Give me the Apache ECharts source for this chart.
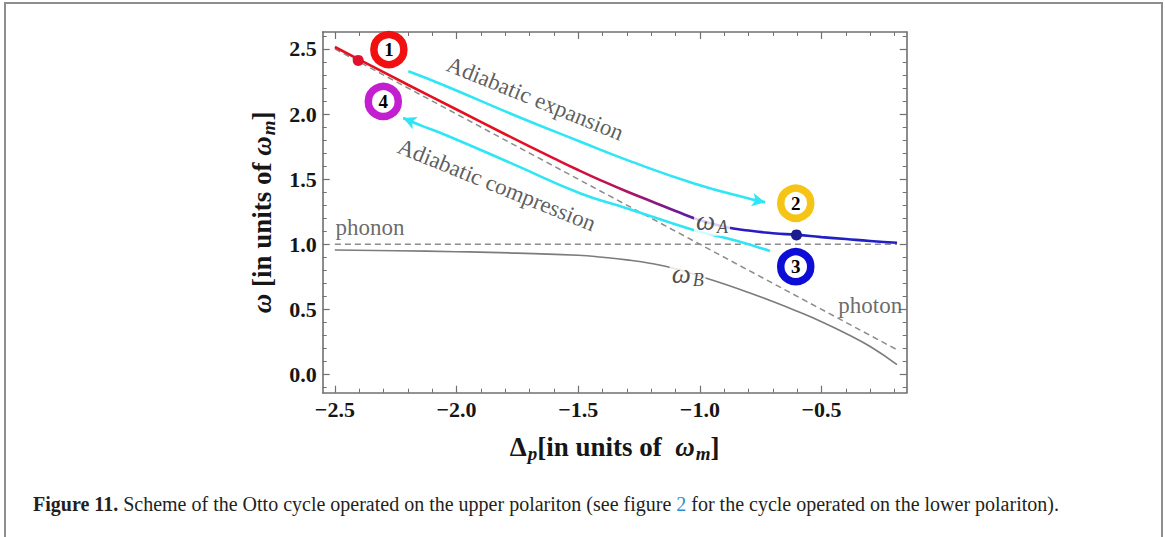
<!DOCTYPE html>
<html>
<head>
    <meta charset="UTF-8">
    <title>Otto cycle, upper polariton</title>
    <script src="https://cdn.jsdelivr.net/npm/echarts@6/dist/echarts.min.js"></script>
    <style>
        html, body { margin: 0; padding: 0; background: #fff; }
        #main { width: 1165px; height: 537px; }
    </style>
</head>
<body>
    <div id="main"></div>
    <script>
        // tick positions
        var xMajor = [-2.5, -2.0, -1.5, -1.0, -0.5];
        var xMinor = [-2.4, -2.3, -2.2, -2.1, -1.9, -1.8, -1.7, -1.6, -1.4, -1.3, -1.2, -1.1, -0.9, -0.8, -0.7, -0.6, -0.4, -0.3, -0.2];
        var yMajor = [0, 0.5, 1.0, 1.5, 2.0, 2.5];
        var yMinor = [-0.1, 0.1, 0.2, 0.3, 0.4, 0.6, 0.7, 0.8, 0.9, 1.1, 1.2, 1.3, 1.4, 1.6, 1.7, 1.8, 1.9, 2.1, 2.2, 2.3, 2.4, 2.6];

        // bare modes (dashed)
        var photonDelta = [-2.5, -0.19];
        var photonOmega = [2.5, 0.19];
        var phononDelta = [-2.5, -0.19];
        var phononOmega = [1.0, 1.0];

        // polariton branches
        var upperDelta = [-2.5, -2.4, -2.2, -2.0, -1.8, -1.6, -1.5, -1.4, -1.3, -1.2, -1.1, -1.0, -0.9, -0.8, -0.7, -0.6, -0.5, -0.4, -0.3, -0.19];
        var upperOmega = [2.515, 2.418, 2.225, 2.035, 1.845, 1.66, 1.57, 1.485, 1.405, 1.33, 1.255, 1.185, 1.135, 1.105, 1.085, 1.072, 1.055, 1.04, 1.025, 1.012];
        var lowerDelta = [-2.5, -2.25, -2.0, -1.75, -1.5, -1.4, -1.3, -1.2, -1.1, -1.0, -0.9, -0.8, -0.7, -0.6, -0.5, -0.4, -0.3, -0.19];
        var lowerOmega = [0.956, 0.95, 0.943, 0.932, 0.915, 0.9, 0.88, 0.852, 0.812, 0.755, 0.695, 0.63, 0.56, 0.485, 0.405, 0.315, 0.215, 0.076];

        // cycle strokes
        var expDelta = [-2.198, -2.04, -1.767, -1.493, -1.301, -1.027, -0.78, -0.732];
        var expOmega = [2.328, 2.212, 1.995, 1.789, 1.648, 1.469, 1.341, 1.322];
        var cmpDelta = [-0.712, -0.85, -1.027, -1.301, -1.493, -1.767, -2.04, -2.15, -2.219];
        var cmpOmega = [0.948, 1.027, 1.11, 1.277, 1.392, 1.615, 1.835, 1.915, 1.969];

        // operating points and numbered stages
        var dotDelta = [-2.404, -0.603];
        var dotOmega = [2.412, 1.072];
        var stageDelta = [-2.278, -0.606, -0.606, -2.301];
        var stageOmega = [2.495, 1.315, 0.828, 2.097];
        var stageNames = ['1', '2', '3', '4'];

        function zip(a, b) {
            return a.map(function (v, i) { return [v, b[i]]; });
        }

        var serif = "'Liberation Serif', serif";
        var frame = '#707070';
        var cyan = '#2ee6f4';
        var stageColors = ['#f01010', '#f5c414', '#0d0dd6', '#c31ecf'];
        var dotColors = ['#e3102c', '#1c1c8e'];

        function fmt(v) {
            return v.toFixed(1).replace('-', '\u2212');
        }

        var axisRich = {
            i: { fontStyle: 'italic', fontWeight: 'bold', fontFamily: serif, fontSize: 27 },
            d: { fontWeight: 'bold', fontFamily: serif, fontSize: 27 },
            m: { fontStyle: 'italic', fontWeight: 'bold', fontFamily: serif, fontSize: 19, verticalAlign: 'bottom', padding: [13, 0, 0, 1] }
        };

        function majorAxis(kind, pos, vals, main) {
            var ax = {
                type: 'value',
                position: pos,
                min: kind === 'x' ? -2.55 : -0.14,
                max: kind === 'x' ? -0.15 : 2.63,
                axisLine: { show: true, onZero: false, lineStyle: { color: frame, width: 1.6 } },
                axisTick: { show: true, inside: true, length: 7, customValues: vals, lineStyle: { color: frame, width: 1.2 } },
                axisLabel: { show: false },
                splitLine: { show: false }
            };
            if (main) {
                ax.axisLabel = {
                    show: true, customValues: vals, formatter: fmt, margin: 6,
                    fontFamily: serif, fontWeight: 'bold', fontSize: 22, color: '#161616'
                };
            }
            return ax;
        }

        function minorAxis(kind, pos, vals) {
            return {
                type: 'value',
                position: pos,
                min: kind === 'x' ? -2.55 : -0.14,
                max: kind === 'x' ? -0.15 : 2.63,
                axisLine: { show: false, onZero: false },
                axisTick: { show: true, inside: true, length: 4, customValues: vals, lineStyle: { color: frame, width: 1 } },
                axisLabel: { show: false },
                splitLine: { show: false }
            };
        }

        var xBottom = majorAxis('x', 'bottom', xMajor, true);
        xBottom.name = '{d|\u0394}{m|p}[in units of  {i|\u03c9}{m|m}]';
        xBottom.nameLocation = 'middle';
        xBottom.nameGap = 38;
        xBottom.nameTextStyle = { fontFamily: serif, fontWeight: 'bold', fontSize: 27, color: '#161616', rich: axisRich };

        var yLeft = majorAxis('y', 'left', yMajor, true);
        yLeft.name = '{i|\u03c9} [in units of {i|\u03c9}{m|m}]';
        yLeft.nameLocation = 'middle';
        yLeft.nameRotate = 90;
        yLeft.nameGap = 44;
        yLeft.nameTextStyle = { fontFamily: serif, fontWeight: 'bold', fontSize: 27, color: '#161616', rich: axisRich };

        var chart = echarts.init(document.getElementById('main'), null, { renderer: 'svg' });

        var textItems = [
            { value: [-2.356, 1.125], name: 'phonon', label: { fontSize: 23, color: '#444' } },
            { value: [-0.30, 0.533], name: 'photon', label: { fontSize: 23, color: '#444' } },
            { value: [-1.677, 2.118], name: 'Adiabatic expansion', label: { fontSize: 23, color: '#333', rotate: -22 } },
            { value: [-1.835, 1.455], name: 'Adiabatic compression', label: { fontSize: 23, color: '#333', rotate: -22 } },
            { value: [-0.95, 1.18], name: '{w|\u03c9}{s|A}', label: { backgroundColor: '#fff', padding: [0, 2, 0, 2] } },
            { value: [-1.05, 0.772], name: '{w|\u03c9}{s|B}', label: { backgroundColor: '#fff', padding: [0, 2, 0, 2] } }
        ];

        var option = {
            animation: false,
            backgroundColor: '#fff',
            grid: { left: 322.7, right: 258.3, top: 32, bottom: 144.3, containLabel: false },
            xAxis: [
                xBottom,
                minorAxis('x', 'bottom', xMinor),
                majorAxis('x', 'top', xMajor, false),
                minorAxis('x', 'top', xMinor)
            ],
            yAxis: [
                yLeft,
                minorAxis('y', 'left', yMinor),
                majorAxis('y', 'right', yMajor, false),
                minorAxis('y', 'right', yMinor)
            ],
            visualMap: {
                type: 'continuous',
                show: false,
                seriesIndex: 3,
                dimension: 0,
                min: -2.5,
                max: -0.19,
                inRange: {
                    color: ['#e5101f', '#e5101f', '#e5101f', '#e5101f', '#e3102a', '#cf1042', '#a0166e', '#5c1aa6', '#2c18c4', '#2020c6', '#2020c6', '#2020c6']
                }
            },
            series: [
                {
                    name: 'photon', type: 'line', data: zip(photonDelta, photonOmega),
                    symbol: 'none', silent: true, z: 1,
                    lineStyle: { color: '#8c8c8c', width: 1.5, type: [6, 4] }
                },
                {
                    name: 'phonon', type: 'line', data: zip(phononDelta, phononOmega),
                    symbol: 'none', silent: true, z: 1,
                    lineStyle: { color: '#8c8c8c', width: 1.5, type: [6, 4] }
                },
                {
                    name: 'omegaB', type: 'line', data: zip(lowerDelta, lowerOmega),
                    symbol: 'none', smooth: true, silent: true, z: 2,
                    lineStyle: { color: '#7c7c7c', width: 1.6 }
                },
                {
                    name: 'omegaA', type: 'line', data: zip(upperDelta, upperOmega),
                    symbol: 'none', smooth: true, silent: true, z: 3,
                    lineStyle: { width: 2.6 }
                },
                {
                    name: 'expansion', type: 'line', data: zip(expDelta, expOmega),
                    symbol: 'none', smooth: true, silent: true, z: 3,
                    lineStyle: { color: cyan, width: 2.6 },
                    markLine: {
                        silent: true, symbol: ['none', 'arrow'], symbolSize: [10, 13],
                        label: { show: false },
                        lineStyle: { color: cyan, width: 2.6, type: 'solid' },
                        data: [[
                            { coord: [expDelta[expDelta.length - 2], expOmega[expOmega.length - 2]] },
                            { coord: [expDelta[expDelta.length - 1], expOmega[expOmega.length - 1]] }
                        ]]
                    }
                },
                {
                    name: 'compression', type: 'line', data: zip(cmpDelta, cmpOmega),
                    symbol: 'none', smooth: true, silent: true, z: 3,
                    lineStyle: { color: cyan, width: 2.6 },
                    markLine: {
                        silent: true, symbol: ['none', 'arrow'], symbolSize: [10, 13],
                        label: { show: false },
                        lineStyle: { color: cyan, width: 2.6, type: 'solid' },
                        data: [[
                            { coord: [cmpDelta[cmpDelta.length - 2], cmpOmega[cmpOmega.length - 2]] },
                            { coord: [cmpDelta[cmpDelta.length - 1], cmpOmega[cmpOmega.length - 1]] }
                        ]]
                    }
                },
                {
                    name: 'points', type: 'scatter', silent: true, z: 5,
                    symbolSize: 11,
                    data: zip(dotDelta, dotOmega).map(function (p, i) {
                        return { value: p, itemStyle: { color: dotColors[i], opacity: 1 } };
                    })
                },
                {
                    name: 'stages', type: 'scatter', silent: true, z: 6,
                    symbolSize: 30,
                    data: zip(stageDelta, stageOmega).map(function (p, i) {
                        return {
                            value: p, name: stageNames[i],
                            itemStyle: { color: '#fff', borderColor: stageColors[i], borderWidth: 7.5, opacity: 1 }
                        };
                    }),
                    label: {
                        show: true, position: 'inside', formatter: '{b}',
                        fontFamily: serif, fontWeight: 'bold', fontSize: 19, color: '#000'
                    }
                },
                {
                    name: 'texts', type: 'scatter', silent: true, z: 7,
                    symbolSize: 0,
                    data: textItems,
                    label: {
                        show: true, position: 'inside', formatter: '{b}',
                        fontFamily: serif, fontSize: 23, color: '#333',
                        rich: {
                            w: { fontFamily: serif, fontStyle: 'italic', fontSize: 27, color: '#222' },
                            s: { fontFamily: serif, fontStyle: 'italic', fontSize: 18, color: '#222', verticalAlign: 'bottom', padding: [12, 0, 0, 2] }
                        }
                    }
                }
            ],
            graphic: [
                {
                    type: 'rect', silent: true, z: 0,
                    shape: { x: 5, y: 3, width: 1157, height: 600 },
                    style: { fill: 'none', stroke: '#8e8e8e', lineWidth: 2 }
                },
                {
                    type: 'text', left: 33, top: 494, silent: true,
                    style: {
                        text: '{b|Figure 11.} Scheme of the Otto cycle operated on the upper polariton (see figure {l|2} for the cycle operated on the lower polariton).',
                        fontFamily: serif, fontSize: 20, fill: '#231f20',
                        rich: {
                            b: { fontFamily: serif, fontSize: 20, fontWeight: 'bold', fill: '#231f20' },
                            l: { fontFamily: serif, fontSize: 20, fill: '#2a8fd2' }
                        }
                    }
                }
            ]
        };

        chart.setOption(option);
    </script>
</body>
</html>
